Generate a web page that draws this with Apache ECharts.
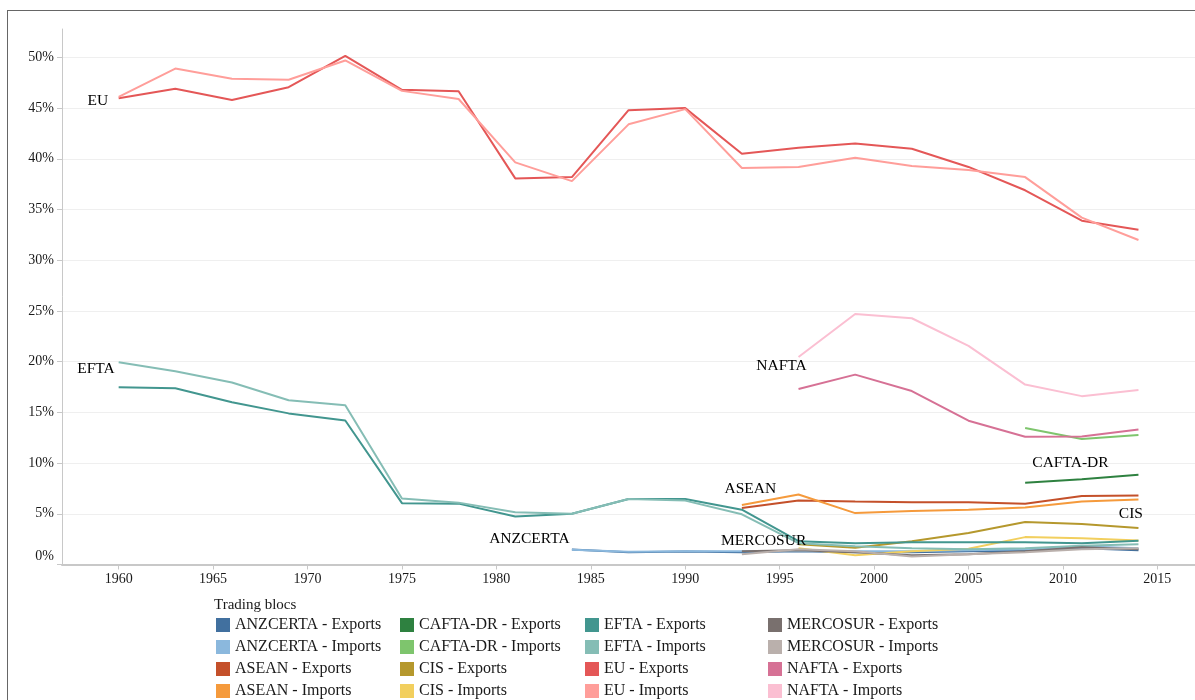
<!DOCTYPE html>
<html>
<head>
<meta charset="utf-8">
<script src="https://cdn.jsdelivr.net/npm/echarts@6/dist/echarts.min.js"></script>
<style>
  html, body { margin: 0; padding: 0; background: #fff; overflow: hidden; width: 1195px; height: 700px; }
  #frame { position: absolute; left: 7px; top: 10px; width: 1188px; height: 690px;
           border-left: 1px solid #666; border-top: 1px solid #666; }
  #chart { position: absolute; left: 0; top: 0; width: 1214px; height: 700px; }
</style>
</head>
<body>
<div id="frame"></div>
<div id="chart"></div>
<script>
// ---- data (percent of world trade) ----
const years = [1960, 1963, 1966, 1969, 1972, 1975, 1978, 1981, 1984, 1987, 1990, 1993, 1996, 1999, 2002, 2005, 2008, 2011, 2014];
const tickYears = [1960, 1965, 1970, 1975, 1980, 1985, 1990, 1995, 2000, 2005, 2010, 2015];
const tickPercents = [0, 5, 10, 15, 20, 25, 30, 35, 40, 45, 50];

const anzcertaExports = [null, null, null, null, null, null, null, null, 1.48, 1.2, 1.28, 1.2, 1.3, 1.2, 1.2, 1.3, 1.35, 1.6, 1.4];
const anzcertaImports = [null, null, null, null, null, null, null, null, 1.45, 1.25, 1.3, 1.3, 1.35, 1.3, 1.3, 1.4, 1.5, 1.8, 1.6];
const aseanExports = [null, null, null, null, null, null, null, null, null, null, null, 5.56, 6.3, 6.2, 6.15, 6.15, 6.0, 6.75, 6.8];
const aseanImports = [null, null, null, null, null, null, null, null, null, null, null, 5.86, 6.9, 5.07, 5.27, 5.4, 5.63, 6.2, 6.4];
const caftaExports = [null, null, null, null, null, null, null, null, null, null, null, null, null, null, null, null, 8.06, 8.4, 8.85];
const caftaImports = [null, null, null, null, null, null, null, null, null, null, null, null, null, null, null, null, 13.46, 12.37, 12.77];
const cisExports = [null, null, null, null, null, null, null, null, null, null, null, null, 2.0, 1.65, 2.3, 3.1, 4.18, 4.0, 3.6];
const cisImports = [null, null, null, null, null, null, null, null, null, null, null, null, 1.6, 0.92, 1.3, 1.55, 2.7, 2.6, 2.37];
const eftaExports = [17.47, 17.37, 16.0, 14.9, 14.2, 6.05, 6.0, 4.74, 5.0, 6.45, 6.45, 5.4, 2.3, 2.1, 2.2, 2.2, 2.2, 2.1, 2.35];
const eftaImports = [19.94, 19.05, 17.94, 16.2, 15.7, 6.5, 6.1, 5.16, 5.0, 6.45, 6.3, 4.95, 2.1, 1.8, 1.6, 1.5, 1.6, 1.85, 2.0];
const euExports = [45.97, 46.9, 45.8, 47.06, 50.15, 46.8, 46.66, 38.07, 38.2, 44.8, 45.0, 40.5, 41.1, 41.5, 41.0, 39.2, 36.9, 33.9, 33.0];
const euImports = [46.1, 48.9, 47.9, 47.8, 49.7, 46.7, 45.9, 39.65, 37.8, 43.4, 44.9, 39.1, 39.2, 40.1, 39.3, 38.9, 38.2, 34.2, 32.0];
const mercosurExports = [null, null, null, null, null, null, null, null, null, null, null, 1.3, 1.4, 1.2, 0.9, 1.0, 1.3, 1.7, 1.5];
const mercosurImports = [null, null, null, null, null, null, null, null, null, null, null, 1.0, 1.5, 1.3, 0.8, 1.0, 1.2, 1.5, 1.6];
const naftaExports = [null, null, null, null, null, null, null, null, null, null, null, null, 17.3, 18.72, 17.1, 14.18, 12.6, 12.63, 13.3];
const naftaImports = [null, null, null, null, null, null, null, null, null, null, null, null, 20.46, 24.7, 24.28, 21.55, 17.74, 16.6, 17.2];

const seriesNames = [
  'ANZCERTA - Exports', 'ANZCERTA - Imports', 'ASEAN - Exports', 'ASEAN - Imports',
  'CAFTA-DR - Exports', 'CAFTA-DR - Imports', 'CIS - Exports', 'CIS - Imports',
  'EFTA - Exports', 'EFTA - Imports', 'EU - Exports', 'EU - Imports',
  'MERCOSUR - Exports', 'MERCOSUR - Imports', 'NAFTA - Exports', 'NAFTA - Imports'
];
const seriesValues = [
  anzcertaExports, anzcertaImports, aseanExports, aseanImports,
  caftaExports, caftaImports, cisExports, cisImports,
  eftaExports, eftaImports, euExports, euImports,
  mercosurExports, mercosurImports, naftaExports, naftaImports
];

// text annotations (text centre in data coordinates)
const annotationLabels = ['EU', 'EFTA', 'ANZCERTA', 'MERCOSUR', 'ASEAN', 'NAFTA', 'CAFTA-DR', 'CIS'];
const annotationYears = [1958.9, 1958.8, 1981.75, 1994.15, 1993.45, 1995.1, 2010.4, 2013.6];
const annotationValues = [45.7, 19.25, 2.57, 2.37, 7.5, 19.55, 9.97, 5.03];

// ---- styles ----
const colors = [
  '#41709f', '#8bb8dd', '#c4502a', '#f59a3c',
  '#2e8140', '#7ec56d', '#b5982d', '#f2cf5e',
  '#42968f', '#85bdb5', '#e45757', '#ff9e9a',
  '#79706e', '#bab0ac', '#d67195', '#fbbfd2'
];
const FONT = 'Liberation Serif';
const TXT = '#1a1a1a';

const lineSeries = seriesNames.map((name, i) => ({
  name: name,
  type: 'line',
  data: years.map((y, j) => [y, seriesValues[i][j]]).filter(p => p[1] !== null),
  showSymbol: false,
  symbol: 'none',
  clip: false,
  lineStyle: { width: 2, color: colors[i] },
  itemStyle: { color: colors[i] },
  emphasis: { disabled: true },
  z: 2
}));

const annotationSeries = {
  name: 'annotations',
  type: 'scatter',
  silent: true,
  symbolSize: 1,
  itemStyle: { color: 'rgba(0,0,0,0)' },
  data: annotationLabels.map((t, i) => ({ name: t, value: [annotationYears[i], annotationValues[i]] })),
  label: {
    show: true, position: 'inside', formatter: '{b}',
    fontFamily: FONT, fontSize: 15.5, color: '#000', opacity: 1
  },
  emphasis: { disabled: true },
  z: 5
};

function legendCol(left, names) {
  return {
    orient: 'vertical', left: left, top: 617, padding: 0,
    itemWidth: 14, itemHeight: 14, itemGap: 6, icon: 'rect',
    selectedMode: false,
    textStyle: { fontFamily: FONT, fontSize: 16, color: TXT, lineHeight: 14 },
    data: names
  };
}

const chart = echarts.init(document.getElementById('chart'), null, { renderer: 'canvas' });
chart.setOption({
  animation: false,
  backgroundColor: 'transparent',
  title: {
    text: 'Trading blocs', left: 214, top: 598, padding: 0,
    textStyle: { fontFamily: FONT, fontSize: 15, fontWeight: 'normal', color: TXT }
  },
  legend: [
    legendCol(216, seriesNames.slice(0, 4)),
    legendCol(400, seriesNames.slice(4, 8)),
    legendCol(585, seriesNames.slice(8, 12)),
    legendCol(768, seriesNames.slice(12, 16))
  ],
  grid: { left: 62, right: 0, top: 29, bottom: 135.5, containLabel: false },
  xAxis: {
    type: 'value', min: 1957, max: 2018,
    axisLine: { show: true, onZero: false, lineStyle: { color: '#c8c8c8', width: 2 } },
    axisTick: { show: true, length: 5, customValues: tickYears, lineStyle: { color: '#c8c8c8' } },
    axisLabel: {
      customValues: tickYears, formatter: v => String(v), margin: 8,
      fontFamily: FONT, fontSize: 14, color: TXT
    },
    splitLine: { show: false }
  },
  yAxis: {
    type: 'value', min: 0, max: 52.8, interval: 5,
    axisLine: { show: true, lineStyle: { color: '#c8c8c8' } },
    axisTick: { show: true, length: 5, customValues: tickPercents, lineStyle: { color: '#c8c8c8' } },
    axisLabel: {
      customValues: tickPercents, margin: 8,
      formatter: v => v === 0 ? '{z|0%}' : v + '%',
      fontFamily: FONT, fontSize: 14, color: TXT,
      rich: { z: { fontFamily: FONT, fontSize: 14, color: TXT, padding: [0, 0, 16, 0] } }
    },
    splitLine: { show: true, lineStyle: { color: '#efefef', width: 1 } }
  },
  series: lineSeries.concat([annotationSeries])
});
</script>
</body>
</html>
